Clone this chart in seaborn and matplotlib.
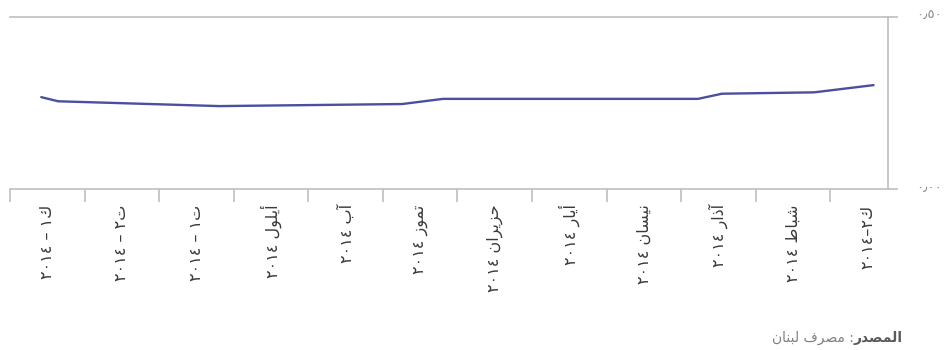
import matplotlib
matplotlib.use("Agg")
import matplotlib.pyplot as plt
import matplotlib.transforms as mtransforms
import seaborn as sns
import pandas as pd
import numpy as np

sns.set_theme(style="white")
plt.rcParams["font.family"] = ["DejaVu Sans"]

# Month labels, January to December 2014 (Arabic, pre-shaped in visual order)
month_labels = [
    "٢٠١٤–٢ﻙ",        # ك٢-٢٠١٤
    "٢٠١٤ ﻁﺎﺒﺷ",       # شباط ٢٠١٤
    "٢٠١٤ ﺭﺍﺫﺁ",       # آذار ٢٠١٤
    "٢٠١٤ ﻥﺎﺴﻴﻧ",      # نيسان ٢٠١٤
    "٢٠١٤ ﺭﺎﻳﺃ",       # أيار ٢٠١٤
    "٢٠١٤ ﻥﺍﺮﻳﺰﺣ",     # حزيران ٢٠١٤
    "٢٠١٤ ﺯﻮﻤﺗ",       # تموز ٢٠١٤
    "٢٠١٤ ﺏﺁ",         # آب ٢٠١٤
    "٢٠١٤ ﻝﻮﻠﻳﺃ",      # أيلول ٢٠١٤
    "٢٠١٤ – ١ﺕ",       # ت١ – ٢٠١٤
    "٢٠١٤ – ٢ﺕ",       # ت٢ – ٢٠١٤
    "٢٠١٤ – ١ﻙ",       # ك١ – ٢٠١٤
]

# Observed rate (%) on dates through 2014
dates = ["2014-01-14", "2014-02-07", "2014-03-15", "2014-03-25", "2014-07-07",
         "2014-07-24", "2014-10-07", "2014-12-12", "2014-12-19"]
rates = [0.302, 0.281, 0.277, 0.262, 0.262, 0.247, 0.241, 0.255, 0.267]
axis_start = "2014-01-08"

y_ticks = [0.0, 0.5]
y_tick_labels = ["٠٫٠٠", "٠٫٥٠"]

source_bold = "ﺭﺪﺼﻤﻟﺍ"          # المصدر
source_rest = "ﻥﺎﻨﺒﻟ ﻑﺮﺼﻣ :"     # : مصرف لبنان


def month_position(d):
    d = pd.to_datetime(pd.Series(d))
    return (d.dt.month - 1 + (d.dt.day - 1) / d.dt.days_in_month).to_numpy()


df = pd.DataFrame({"pos": month_position(dates), "rate": rates})

grey = "#bfbfbf"
fig = plt.figure(figsize=(9.52, 3.5), dpi=100)
ax = fig.add_axes([10 / 952, 1 - 189 / 350, 878 / 952, 172 / 350])

sns.lineplot(data=df, x="pos", y="rate", color="#4b4fa0", linewidth=1.7, ax=ax)

# right-to-left month axis
ax.set_xlim(12, month_position([axis_start])[0])
ax.set_ylim(0, 0.5)
ax.set_xlabel("")
ax.set_ylabel("")

ax.set_xticks(np.arange(1, 13), labels=[""] * 12)
ax.set_xticks(np.arange(12) + 0.5, labels=month_labels, minor=True,
              rotation=90, fontsize=11.5, color="#3a3a3a")
ax.tick_params(axis="x", which="major", length=9, width=1.2, color=grey,
               bottom=True)
ax.tick_params(axis="x", which="minor", length=0, pad=11, bottom=True)

ax.yaxis.tick_right()
ax.set_yticks(y_ticks, labels=y_tick_labels)
ax.tick_params(axis="y", which="major", right=True, length=7, width=1.2,
               color=grey, pad=13, labelsize=9.5, labelcolor="#8c8c8c")
lift = mtransforms.ScaledTranslation(0, 3 / 100, fig.dpi_scale_trans)
for lbl in ax.get_yticklabels():
    lbl.set_transform(lbl.get_transform() + lift)

ax.spines["left"].set_visible(False)
for side in ("top", "right", "bottom"):
    ax.spines[side].set_color(grey)
    ax.spines[side].set_linewidth(1.2)
ax.grid(False)

src = fig.text(903 / 952, 1 - 338 / 350, source_bold, ha="right", va="center",
               fontsize=10, fontweight="bold", color="#5a5a5a")
ax.annotate(source_rest, xy=(0, 0.5), xycoords=src, ha="right", va="center",
            fontsize=10, color="#808080", annotation_clip=False)

fig.savefig("out.png", dpi=100)
